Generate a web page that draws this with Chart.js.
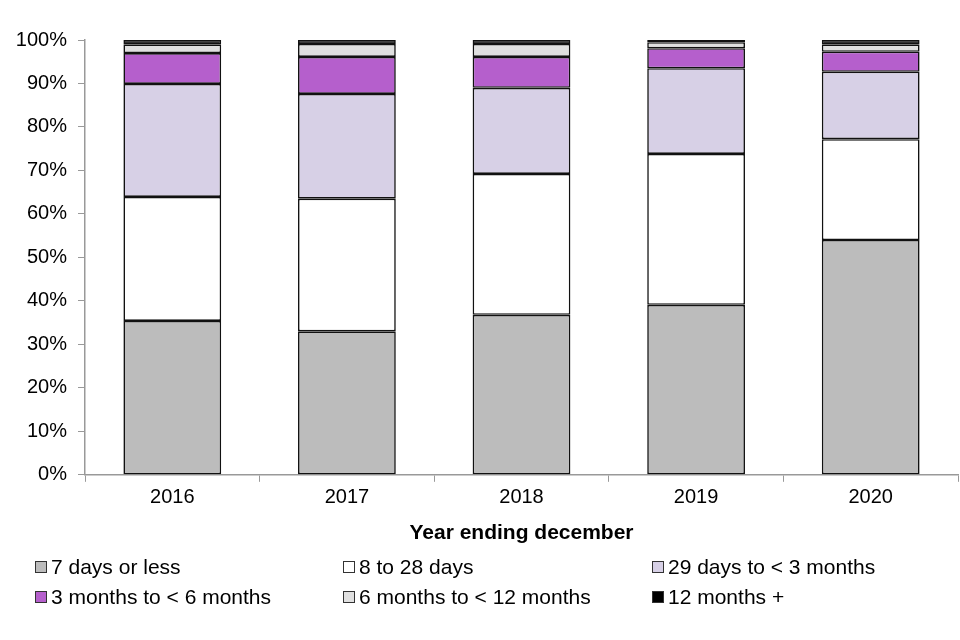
<!DOCTYPE html>
<html>
<head>
<meta charset="utf-8">
<script src="https://cdn.jsdelivr.net/npm/chart.js@4"></script>
<style>
  body { margin: 0; background: #fff; }
  #wrap { position: relative; width: 960px; height: 640px; }
  #legend { position: absolute; left: 35px; top: 555px; width: 920px;
    display: grid; grid-template-columns: 308px 309px 300px; row-gap: 7px;
    font-family: "Liberation Sans", Arial, sans-serif; font-size: 21px; color: #000; }
  .item { display: flex; align-items: center; height: 23px; }
  .box { width: 10px; height: 10px; border: 1.5px solid #333; margin-right: 4px; }
</style>
</head>
<body>
<div id="wrap">
  <canvas id="chart" width="960" height="640"></canvas>
  <div id="legend"></div>
</div>
<script>
var years = ['2016', '2017', '2018', '2019', '2020'];
var seriesNames = ['7 days or less', '8 to 28 days', '29 days to < 3 months',
  '3 months to < 6 months', '6 months to < 12 months', '12 months +'];
var days7 = [35.4, 33.0, 36.8, 39.1, 54.0];
var days8to28 = [28.5, 30.5, 32.4, 34.7, 23.2];
var days29to3m = [26.0, 24.1, 19.8, 19.7, 15.5];
var months3to6 = [7.1, 8.5, 7.1, 4.6, 4.6];
var months6to12 = [2.0, 3.0, 3.0, 1.4, 1.7];
var months12plus = [1.0, 0.9, 0.9, 0.5, 1.0];
var yTicks = [0, 10, 20, 30, 40, 50, 60, 70, 80, 90, 100];

var colors = ['#bcbcbc', '#ffffff', '#d7d0e6', '#b55fcc', '#e0e0e0', '#000000'];
var values = [days7, days8to28, days29to3m, months3to6, months6to12, months12plus];

var datasets = [];
for (var i in values) {
  datasets.push({
    label: seriesNames[i],
    data: values[i],
    backgroundColor: colors[i],
    borderColor: '#111',
    borderWidth: 1.6,
    borderSkipped: false,
    barPercentage: 0.56,
    categoryPercentage: 1.0,
    clip: false
  });
}

var font = { family: '"Liberation Sans", Arial, sans-serif', size: 20 };

var chart = new Chart(document.getElementById('chart'), {
  type: 'bar',
  data: { labels: years, datasets: datasets },
  options: {
    responsive: false,
    animation: false,
    layout: { padding: { top: 40, right: 2, left: 10, bottom: 90 } },
    plugins: { legend: { display: false }, tooltip: { enabled: false } },
    scales: {
      x: {
        stacked: true,
        grid: { display: true, drawOnChartArea: false, offset: true, color: '#999', tickLength: 7 },
        border: { color: '#999', width: 1.5 },
        ticks: { color: '#000', font: font, padding: 4 },
        title: { display: true, text: 'Year ending december', color: '#000',
          font: { family: font.family, size: 21, weight: 'bold' }, padding: { top: 7 } }
      },
      y: {
        stacked: true,
        min: 0, max: 100,
        afterFit: function(s) { s.width = 75; },
        afterBuildTicks: function(s) { s.ticks = yTicks.map(function(v) { return { value: v }; }); },
        grid: { display: true, drawOnChartArea: false, color: '#999', tickLength: 7 },
        border: { color: '#999', width: 1.5 },
        ticks: { color: '#000', font: font, padding: 11,
          callback: function(v) { return v + '%'; } }
      }
    }
  }
});

var legend = document.getElementById('legend');
chart.data.datasets.forEach(function(ds) {
  var item = document.createElement('div');
  item.className = 'item';
  var box = document.createElement('span');
  box.className = 'box';
  box.style.background = ds.backgroundColor;
  item.appendChild(box);
  item.appendChild(document.createTextNode(ds.label));
  legend.appendChild(item);
});
</script>
</body>
</html>
